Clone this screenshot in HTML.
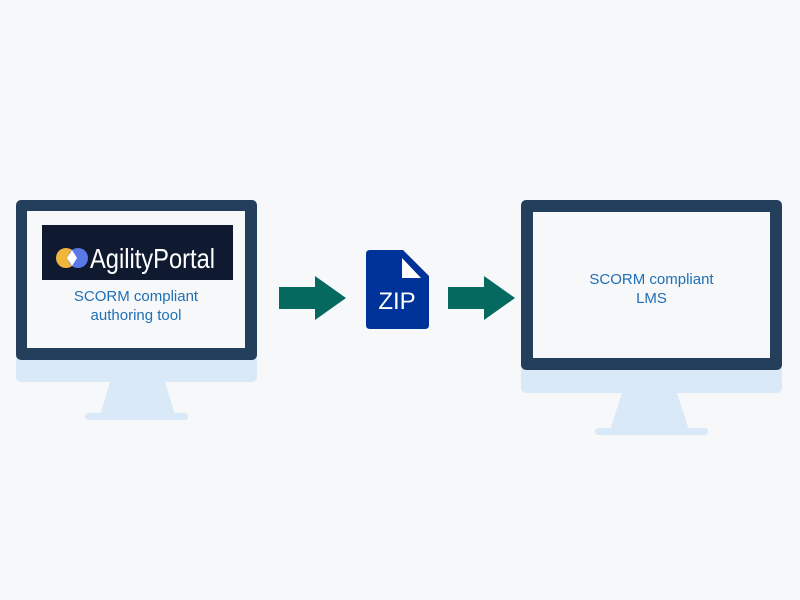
<!DOCTYPE html>
<html><head><style>
body{margin:0;width:800px;height:600px;background:#f7f8fa;position:relative;overflow:hidden;font-family:"Liberation Sans",sans-serif}
.a{position:absolute}
.t{color:#1f6fb5;font-size:15px;text-align:center;line-height:19px}
</style></head><body>
<svg class="a" style="left:0;top:0" width="800" height="600">
<!-- left monitor -->
<path d="M110 382 L165 382 L175 415 L100 415 Z" fill="#d9e9f7"/>
<rect x="85" y="413" width="103" height="7" rx="3" fill="#d9e9f7"/>
<rect x="16" y="355" width="241" height="27" rx="5" fill="#d9e9f7"/>
<rect x="16" y="200" width="241" height="160" rx="5" fill="#233f5c"/>
<rect x="27" y="211" width="218" height="137" fill="#f7f8fa"/>
<rect x="42" y="225" width="191" height="55" fill="#0f1a30"/>
<circle cx="66" cy="258" r="10" fill="#f0b63c"/>
<circle cx="78" cy="258" r="10" fill="#5a78e6"/>
<path d="M72 250 L77 258 L72 266 L67 258 Z" fill="#fff"/>
<text x="90" y="268" font-family="Liberation Sans" font-size="28" fill="#fff" textLength="125" lengthAdjust="spacingAndGlyphs">AgilityPortal</text>
<!-- right monitor -->
<path d="M622 393 L677 393 L689 430 L610 430 Z" fill="#d9e9f7"/>
<rect x="595" y="428" width="113" height="7" rx="3" fill="#d9e9f7"/>
<rect x="521" y="365" width="261" height="28" rx="5" fill="#d9e9f7"/>
<rect x="521" y="200" width="261" height="170" rx="5" fill="#233f5c"/>
<rect x="533" y="212" width="237" height="146" fill="#f7f8fa"/>
<!-- arrows -->
<path d="M279 287 H315 V276 L346 298 L315 320 V309 H279 Z" fill="#05695f"/>
<path d="M448 287 H484 V276 L515 298 L484 320 V309 H448 Z" fill="#05695f"/>
<!-- zip -->
<path d="M370 250 H403 L429 276 V325 Q429 329 425 329 H370 Q366 329 366 325 V254 Q366 250 370 250 Z" fill="#003399"/>
<path d="M402 258 L421 278 H402 Z" fill="#fff"/>
<text x="397" y="309" text-anchor="middle" font-family="Liberation Sans" font-size="24" fill="#fff">ZIP</text>
</svg>
<div class="a t" style="left:27px;top:287px;width:218px">SCORM compliant<br>authoring tool</div>
<div class="a t" style="left:533px;top:270px;width:237px">SCORM compliant<br>LMS</div>
</body></html>
